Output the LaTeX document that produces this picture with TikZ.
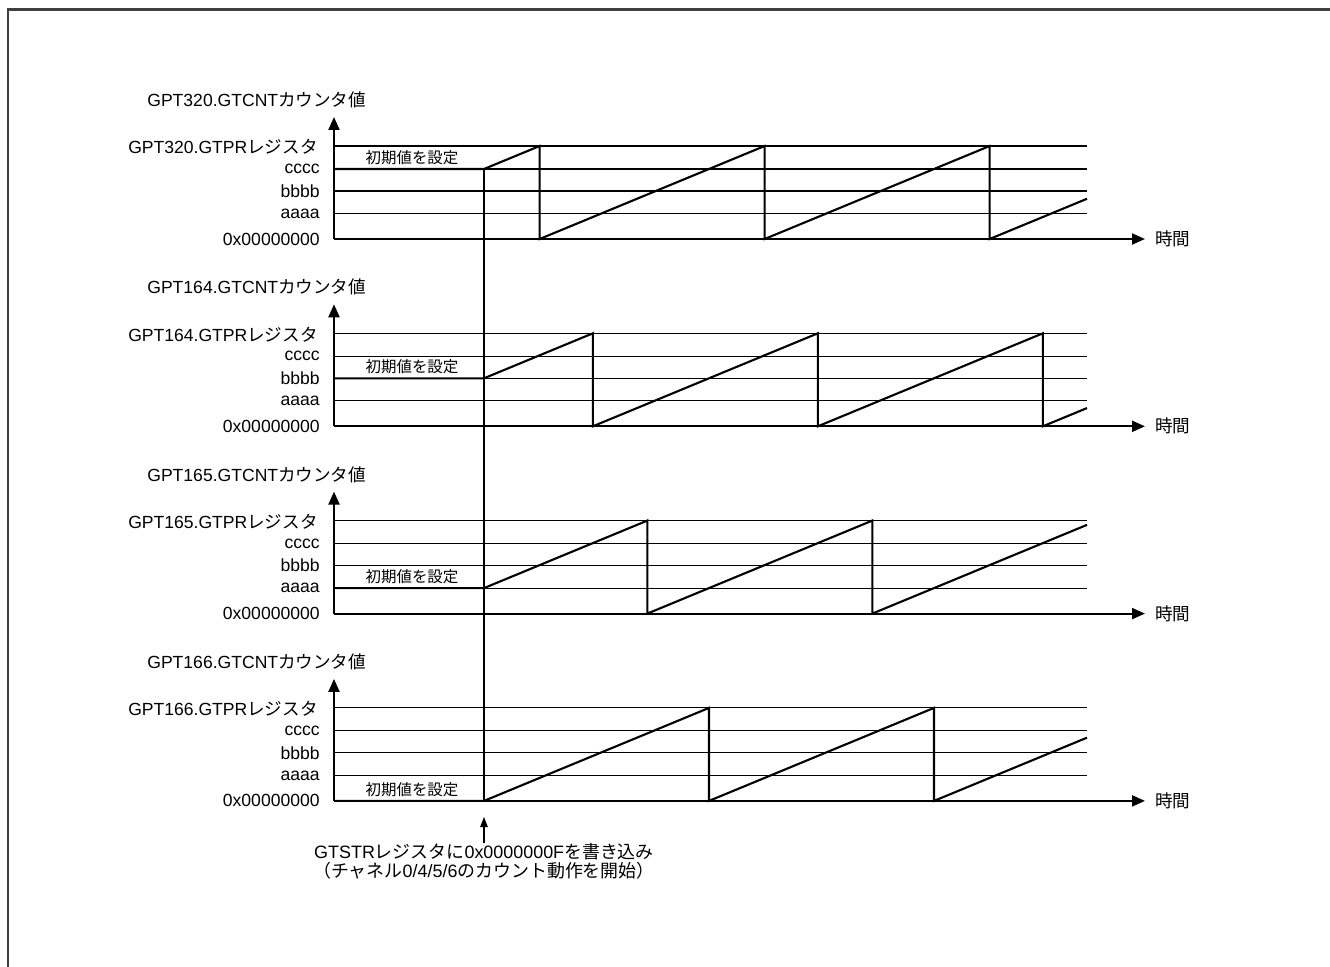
\documentclass[tikz,border=0pt]{standalone}
\usepackage{fontspec}
\setmainfont{Liberation Sans}
\newfontfamily\jp{Noto Sans CJK JP}
\usetikzlibrary{arrows.meta,positioning}

\tikzset{
  frame/.style={draw=black!75, line width=1.2pt},
  grid line/.style={line width=0.6pt},
  wave/.style={line width=1.2pt, line join=miter},
  axis/.style={line width=1.2pt, -{Triangle[length=0.26cm,width=0.22cm]}},
  level label/.style={anchor=east, inner sep=0pt},
  axis label/.style={anchor=west, inner sep=0pt},
  init label/.style={inner sep=0pt, font=\fontsize{8.8pt}{10pt}\selectfont},
  note/.style={anchor=north, inner sep=0pt, align=center, font=\fontsize{10.2pt}{10.6pt}\selectfont},
  note arrow/.style={line width=0.6pt, -{Triangle[length=0.2cm,width=0.15cm]}},
}

\begin{document}
\begin{tikzpicture}[x=0.02cm, y=-0.02cm, font=\fontsize{10pt}{11pt}\selectfont]
% canvas and outer frame
\useasboundingbox (0,0) rectangle (1330,967);
\draw[frame] (8,967) -- (8,9.5) -- (1330,9.5);

% Define dimensions
\def\xa{334}    % vertical axis
\def\xs{484}    % counting starts here
\def\xe{1087}   % end of grid lines
\def\per{225}   % sawtooth period
\def\dy{187.3}  % distance between panels

% one panel per channel: channel / initial level offset / number of teeth
\foreach \ch/\off/\n [count=\i from 0] in {320/70/3, 164/48/3, 165/25.5/2, 166/0/2} {
  \pgfmathsetmacro\zy{239+\dy*\i}
  \pgfmathsetmacro\yi{\zy-\off}
  \pgfmathsetmacro\yt{\zy-93}
  \pgfmathsetmacro\xf{\xs+(93-\off)/93*\per}
  \pgfmathtruncatemacro\nn{\n-1}
  \pgfmathsetmacro\xl{\xf+\per*\nn}
  \pgfmathsetmacro\yend{\zy-(\xe-\xl)/\per*93}

  % grid lines
  \foreach \o in {25.5,48,70,93}
    \draw[grid line] (\xa,\zy-\o) -- (\xe,\zy-\o);

  % counter value
  \coordinate (s\i) at (\xs,\yi);
  \draw[wave] (\xa,\yi) -- (s\i) -- (\xf,\yt) -- (\xf,\zy)
    foreach \k in {1,...,\nn} { -- (\xf+\per*\k,\yt) -- (\xf+\per*\k,\zy) }
    -- (\xe,\yend);

  % axes
  \draw[axis] (\xa,\zy) -- (\xa,\zy-122);
  \draw[axis] (\xa,\zy) -- (1145,\zy);

  % Labels
  \node[axis label] (cnt\i) at (147,\zy-139) {GPT\ch.GTCNT{\jp カウンタ値}};
  \node[level label] (gtpr\i) at (318,\zy-92) {GPT\ch.GTPR{\jp レジスタ}};
  \node[level label] (cccc\i) at (320,\zy-70) {cccc};
  \node[level label] (bbbb\i) at (320,\zy-48) {bbbb};
  \node[level label] (aaaa\i) at (320,\zy-25.5) {aaaa};
  \node[level label] (zero\i) at (320,\zy) {0x00000000};
  \node[axis label] (time\i) at (1155,\zy) {\jp 時間};
  \node[init label] (init\i) at (412,\yi-11.5) {\jp 初期値を設定};
}

% start of counting for all channels
\draw[wave] (s0) -- (s3);

% GTSTR write
\coordinate (tip) at (\xs,817);
\node[note] (gtstr) at (\xs,843)
  {GTSTR{\jp レジスタに}0x0000000F{\jp を書き込み}\\{\jp （チャネル}0/4/5/6{\jp のカウント動作を開始）}};
\draw[note arrow] (gtstr.north) -- (tip);

\end{tikzpicture}
\end{document}
